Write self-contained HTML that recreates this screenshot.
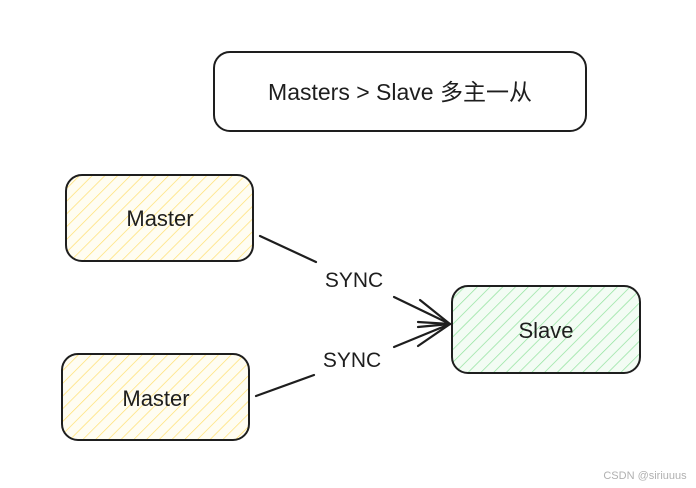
<!DOCTYPE html>
<html><head><meta charset="utf-8"><style>
html,body{margin:0;padding:0;background:#fff;}
svg{display:block}
text{font-family:"Liberation Sans","Noto Sans CJK SC",sans-serif;fill:#1e1e1e}
</style></head><body>
<svg width="696" height="488" viewBox="0 0 696 488" xmlns="http://www.w3.org/2000/svg">
<defs>
<pattern id="hy" width="9" height="9" patternUnits="userSpaceOnUse" patternTransform="rotate(45)">
<rect width="9" height="9" fill="#fffdf2"/><line x1="0" y1="0" x2="0" y2="9" stroke="#ffdf6e" stroke-width="1.4"/></pattern>
<pattern id="hg" width="9" height="9" patternUnits="userSpaceOnUse" patternTransform="rotate(45)">
<rect width="9" height="9" fill="#f3fcf4"/><line x1="0" y1="0" x2="0" y2="9" stroke="#8fe29c" stroke-width="1.4"/></pattern>
</defs>
<rect x="214" y="52" width="372" height="79" rx="16" fill="#fff" stroke="#1e1e1e" stroke-width="2"/>
<text x="400" y="100" font-size="23" text-anchor="middle">Masters &gt; Slave 多主一从</text>
<rect x="66" y="175" width="187" height="86" rx="16" fill="url(#hy)" stroke="#1e1e1e" stroke-width="2"/>
<text x="160" y="226" font-size="22" text-anchor="middle">Master</text>
<rect x="62" y="354" width="187" height="86" rx="16" fill="url(#hy)" stroke="#1e1e1e" stroke-width="2"/>
<text x="156" y="406" font-size="22" text-anchor="middle">Master</text>
<rect x="452" y="286" width="188" height="87" rx="16" fill="url(#hg)" stroke="#1e1e1e" stroke-width="2"/>
<text x="546" y="338" font-size="22" text-anchor="middle">Slave</text>
<g stroke="#1e1e1e" stroke-width="2.2" fill="none" stroke-linecap="round">
<line x1="260" y1="236" x2="316" y2="262"/>
<line x1="394" y1="297" x2="450" y2="324"/>
<line x1="256" y1="396" x2="314" y2="375"/>
<line x1="394" y1="347" x2="450" y2="324"/>
<polyline points="420,300 450,324 418,346"/>
<line x1="418" y1="322" x2="450" y2="324"/>
<line x1="418" y1="327" x2="450" y2="324"/>
</g>
<text x="354" y="287" font-size="21" text-anchor="middle">SYNC</text>
<text x="352" y="367" font-size="21" text-anchor="middle">SYNC</text>
<text x="645" y="479" font-size="11" text-anchor="middle" style="fill:#b0b0b0">CSDN @siriuuus</text>
</svg>
</body></html>
